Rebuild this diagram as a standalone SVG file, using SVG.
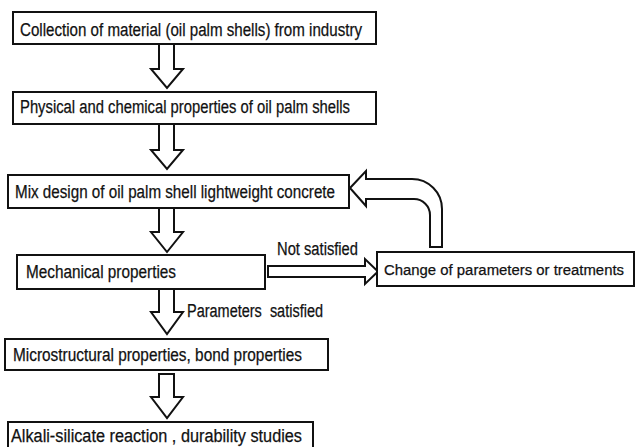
<svg xmlns="http://www.w3.org/2000/svg" width="636" height="447" viewBox="0 0 636 447">
<style>
.box{fill:#fff;stroke:#111;stroke-width:2}
.arr{fill:#fff;stroke:#111;stroke-width:2;stroke-linejoin:miter}
text{font-family:"Liberation Sans",Arial,sans-serif;font-size:18px;fill:#111;stroke:#111;stroke-width:0.25}
</style>
<rect width="636" height="447" fill="#fff"/>
<g id="connectors">
<path class="arr" d="M159 44 L159 69 L151 69 L167 88 L183 69 L174 69 L174 44"/>
<path class="arr" d="M159 124 L159 150 L151 150 L167 169 L183 150 L174 150 L174 124"/>
<path class="arr" d="M159 208 L159 232 L151 232 L167 252 L183 232 L174 232 L174 208"/>
<path class="arr" d="M159 289 L159 312 L151 312 L167 334 L183 312 L174 312 L174 289"/>
<path class="arr" d="M159 374 L159 397 L151 397 L167 418 L183 397 L174 397 L174 374 Z"/>
<path class="arr" d="M268 266 L365 266 L365 259 L378 271.5 L365 284 L365 277 L268 277 Z"/>
<path class="arr" d="M350 188 L366 171 L366 179 L412 179 A30 30 0 0 1 442 209 L442 247 L430 247 L430 215 A16 16 0 0 0 414 199 L366 199 L366 206 Z"/>
<text x="277" y="255" textLength="81" lengthAdjust="spacingAndGlyphs">Not satisfied</text>
<text x="187" y="317" textLength="136" lengthAdjust="spacingAndGlyphs" xml:space="preserve">Parameters  satisfied</text>
</g>
<g id="n1">
<rect class="box" x="13" y="12" width="363" height="32"/>
<text x="20" y="36" textLength="342" lengthAdjust="spacingAndGlyphs">Collection of material (oil palm shells) from industry</text>
</g>
<g id="n2">
<rect class="box" x="13" y="92" width="363" height="32"/>
<text x="20" y="113" textLength="330" lengthAdjust="spacingAndGlyphs">Physical and chemical properties of oil palm shells</text>
</g>
<g id="n3">
<rect class="box" x="8" y="175" width="341" height="33"/>
<text x="15" y="198" textLength="320" lengthAdjust="spacingAndGlyphs">Mix design of oil palm shell lightweight concrete</text>
</g>
<g id="n4">
<rect class="box" x="17" y="255" width="248" height="34"/>
<text x="26" y="278" textLength="150" lengthAdjust="spacingAndGlyphs">Mechanical properties</text>
</g>
<g id="n5">
<rect class="box" x="377" y="252" width="257" height="34"/>
<text x="384" y="275" style="font-size:15.5px" textLength="240" lengthAdjust="spacingAndGlyphs">Change of parameters or treatments</text>
</g>
<g id="n6">
<rect class="box" x="5" y="339" width="323" height="31"/>
<text x="13" y="361" textLength="289" lengthAdjust="spacingAndGlyphs">Microstructural properties, bond properties</text>
</g>
<g id="n7">
<rect class="box" x="8" y="422" width="305" height="30"/>
<text x="11" y="442" textLength="291" lengthAdjust="spacingAndGlyphs">Alkali-silicate reaction , durability studies</text>
</g>
</svg>
